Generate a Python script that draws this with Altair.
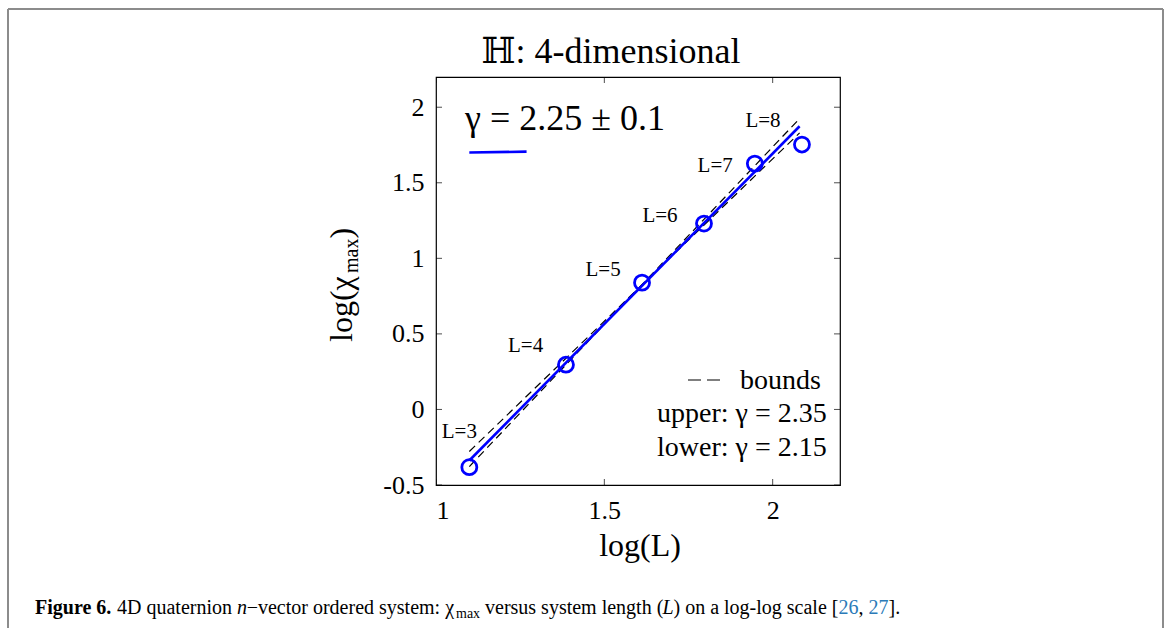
import altair as alt
import pandas as pd

# ---------------- data ----------------
L_labels = ["L=3", "L=4", "L=5", "L=6", "L=7", "L=8"]
log_L = [1.099, 1.386, 1.612, 1.796, 1.947, 2.087]
log_chi = [-0.382, 0.296, 0.839, 1.230, 1.627, 1.753]

# label anchor positions (data units)
lab_x = [1.017, 1.214, 1.444, 1.613, 1.777, 1.919]
lab_y = [-0.192, 0.379, 0.881, 1.240, 1.571, 1.870]

fit_x = [1.099, 2.080]
fit_y = [-0.338, 1.874]
upper_x = [1.099, 2.080]
upper_y = [-0.378, 1.925]
lower_x = [1.099, 2.080]
lower_y = [-0.278, 1.830]
legline_x = [1.099, 1.269]
legline_y = [1.700, 1.706]

x_ticks = [1, 1.5, 2]
y_ticks = [-0.5, 0, 0.5, 1, 1.5, 2]

TITLE = "ℍ: 4-dimensional"
GAMMA_TXT = "γ = 2.25 ± 0.1"
BOUNDS_TXT = ["bounds", "upper: γ = 2.35", "lower: γ = 2.15"]
XLABEL = "log(L)"
YLABEL = ["log(χ", "max", ")"]
CAPTION = [
    ("Figure 6.", "bold", "normal", "black", 20),
    ("4D quaternion", "normal", "normal", "black", 20),
    ("n", "normal", "italic", "black", 20),
    ("−vector ordered system: χ", "normal", "normal", "black", 20),
    ("max", "normal", "normal", "black", 14),
    ("versus system length (", "normal", "normal", "black", 20),
    ("L", "normal", "italic", "black", 20),
    (") on a log-log scale [", "normal", "normal", "black", 20),
    ("26", "normal", "normal", "#2a7ab8", 20),
    (",", "normal", "normal", "black", 20),
    ("27", "normal", "normal", "#2a7ab8", 20),
    ("].", "normal", "normal", "black", 20),
]
CAPTION_X = [35, 117, 237, 246.7, 456, 485, 662.5, 673.5, 838.5, 858.5, 868.5, 888.5]

# ---------------- layout ----------------
OX, OY = 436, 77          # plot-area origin in the page
W, H = 404, 408
SERIF = "Liberation Serif, DejaVu Serif, serif"

xs = alt.Scale(domain=[1, 2.2], nice=False, zero=False)
ys = alt.Scale(domain=[-0.5, 2.2], nice=False, zero=False)
X_AX = alt.Axis(values=x_ticks, title=None, labelExpr="'' + datum.value")
Y_AX = alt.Axis(values=y_ticks, title=None, labelExpr="'' + datum.value")


def txt(s, X, Y, size, align="left", angle=0, weight="normal", style="normal",
        color="black", baseline="alphabetic"):
    return alt.Chart(pd.DataFrame({"t": [s]})).mark_text(
        align=align, baseline=baseline, fontSize=size, font=SERIF,
        fontWeight=weight, fontStyle=style, color=color, angle=angle
    ).encode(x=alt.value(X - OX), y=alt.value(Y - OY), text="t:N")


def rule(X1, Y1, X2, Y2, color, width, dash=None):
    kw = dict(color=color, strokeWidth=width)
    if dash:
        kw["strokeDash"] = dash
    return alt.Chart(pd.DataFrame({"a": [0]})).mark_rule(**kw).encode(
        x=alt.value(X1 - OX), y=alt.value(Y1 - OY),
        x2=alt.value(X2 - OX), y2=alt.value(Y2 - OY))


pts = pd.DataFrame({"x": log_L, "y": log_chi, "lab": L_labels,
                    "lx": lab_x, "ly": lab_y})
fit = pd.DataFrame({"x": fit_x, "y": fit_y})
bounds = pd.DataFrame({"x": upper_x + lower_x, "y": upper_y + lower_y,
                       "g": ["upper"] * 2 + ["lower"] * 2})
legl = pd.DataFrame({"x": legline_x, "y": legline_y})

fit_line = alt.Chart(fit).mark_line(color="#0000ff", strokeWidth=2.6).encode(
    x=alt.X("x:Q", scale=xs, axis=X_AX), y=alt.Y("y:Q", scale=ys, axis=Y_AX))
bound_lines = alt.Chart(bounds).mark_line(color="black", strokeWidth=1.2,
                                          strokeDash=[8, 5]).encode(
    x=alt.X("x:Q", scale=xs, axis=X_AX), y=alt.Y("y:Q", scale=ys, axis=Y_AX),
    detail="g:N")
circles = alt.Chart(pts).mark_point(shape="circle", filled=False, size=225,
                                    strokeWidth=2.8, color="#0000ff",
                                    opacity=1).encode(
    x=alt.X("x:Q", scale=xs, axis=X_AX), y=alt.Y("y:Q", scale=ys, axis=Y_AX))
lab_text = alt.Chart(pts).mark_text(align="left", baseline="alphabetic",
                                    fontSize=21, font=SERIF, color="black").encode(
    x=alt.X("lx:Q", scale=xs, axis=X_AX), y=alt.Y("ly:Q", scale=ys, axis=Y_AX),
    text="lab:N")
leg_line = alt.Chart(legl).mark_line(color="#0000ff", strokeWidth=2.6).encode(
    x=alt.X("x:Q", scale=xs, axis=X_AX), y=alt.Y("y:Q", scale=ys, axis=Y_AX))

# inward ticks (half of each tick is clipped away by the plot edge)
tb = pd.DataFrame({"v": x_ticks})
tl = pd.DataFrame({"v": y_ticks})
tick_kw = dict(clip=True, color="black", thickness=1, size=12)
bot_ticks = alt.Chart(tb).mark_tick(orient="vertical", **tick_kw).encode(
    x=alt.X("v:Q", scale=xs, axis=X_AX), y=alt.datum(-0.5, scale=ys))
top_ticks = alt.Chart(tb).mark_tick(orient="vertical", **tick_kw).encode(
    x=alt.X("v:Q", scale=xs, axis=X_AX), y=alt.datum(2.2, scale=ys))
left_ticks = alt.Chart(tl).mark_tick(orient="horizontal", **tick_kw).encode(
    y=alt.Y("v:Q", scale=ys, axis=Y_AX), x=alt.datum(1, scale=xs))
right_ticks = alt.Chart(tl).mark_tick(orient="horizontal", **tick_kw).encode(
    y=alt.Y("v:Q", scale=ys, axis=Y_AX), x=alt.datum(2.2, scale=xs))

layers = [bound_lines, fit_line, circles, lab_text, leg_line,
          bot_ticks, top_ticks, left_ticks, right_ticks]

# annotations
layers.append(txt(TITLE, 611, 63, 36, align="center"))
layers.append(txt(GAMMA_TXT, 465, 130, 36))
layers.append(rule(688, 380, 720, 380, "black", 1.2, [13, 6]))
layers.append(txt(BOUNDS_TXT[0], 740, 389, 28))
layers.append(txt(BOUNDS_TXT[1], 657, 422, 28))
layers.append(txt(BOUNDS_TXT[2], 657, 456, 28))
layers.append(txt(XLABEL, 640, 556, 32, align="center"))
# y label with subscript, rotated
layers.append(txt(YLABEL[0], 352, 342, 32, angle=270))
layers.append(txt(YLABEL[1], 358, 273, 20, angle=270))
layers.append(txt(YLABEL[2], 352, 238.5, 32, angle=270))
# caption
for (s, wgt, sty, col, sz), cx in zip(CAPTION, CAPTION_X):
    yy = 614 + (4 if sz < 20 else 0)
    layers.append(txt(s, cx, yy, sz, weight=wgt, style=sty, color=col))
# figure frame
layers.append(rule(8, 9, 1163, 9, "#8c8c8c", 2))
layers.append(rule(8, 9, 8, 640, "#8c8c8c", 2))
layers.append(rule(1163, 9, 1163, 640, "#8c8c8c", 2))

chart = alt.layer(*layers).properties(
    width=W, height=H,
    padding={"left": OX, "top": OY, "right": 1172 - OX - W, "bottom": 628 - OY - H},
    autosize=alt.AutoSizeParams(type="none"),
    background="white",
).configure_view(stroke="black", strokeWidth=1.2).configure_axis(
    grid=False, ticks=False, domain=False, labelFont=SERIF, labelFontSize=26,
    labelColor="black", labelPadding=12)

chart.save("out.html", embed_options={"renderer": "svg", "actions": False})
